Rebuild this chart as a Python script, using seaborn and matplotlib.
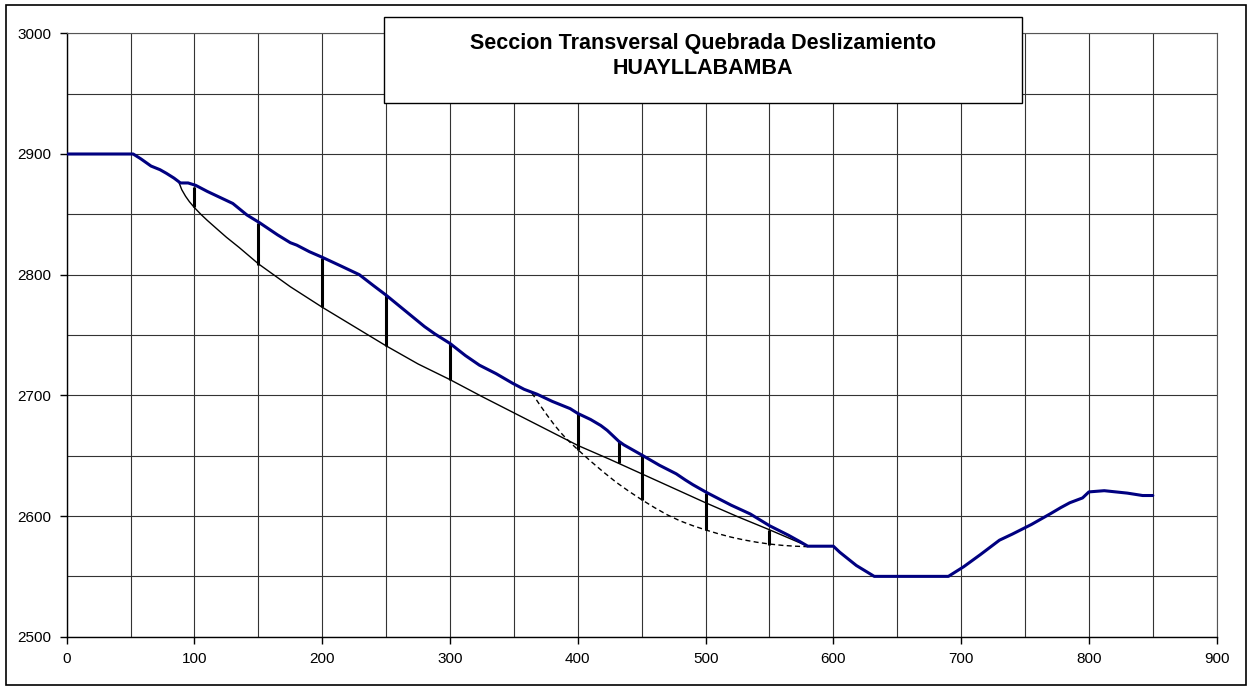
import numpy as np
import pandas as pd
import seaborn as sns
import matplotlib
matplotlib.use("Agg")
import matplotlib.pyplot as plt
from matplotlib.ticker import MultipleLocator
from matplotlib.patches import Rectangle

# ---- data ----
ground_x = [0, 52, 55, 58, 62, 66, 73, 78, 84, 89, 95, 101, 110, 122, 130, 141, 151, 165, 175, 180,
            190, 200, 215, 229, 240, 250, 265, 280, 288, 300, 312, 323, 336, 349, 358, 368, 380, 394,
            400, 410, 418, 423, 428, 432, 436, 450, 464, 477, 484, 490, 501, 520, 535, 550, 565, 574,
            580, 600, 605, 618, 632, 690, 702, 715, 730, 740, 755, 770, 778, 785, 795, 800, 812, 830,
            842, 850]
ground_y = [2900, 2900, 2898, 2896, 2893, 2890, 2887, 2884, 2880, 2876, 2876, 2874, 2869, 2863, 2859,
            2849.5, 2843, 2833, 2826.5, 2824.5, 2819, 2814.4, 2807, 2800, 2791, 2783, 2770, 2757, 2751,
            2743, 2733, 2725, 2718, 2710, 2705, 2701, 2695, 2689, 2685, 2680, 2675, 2671, 2666, 2662,
            2659, 2650.6, 2642, 2635, 2630, 2626, 2619.4, 2609, 2601.7, 2592, 2584, 2578.7, 2575, 2575,
            2570, 2559, 2550, 2550, 2558, 2568, 2580, 2585, 2593, 2602, 2607, 2611, 2615, 2620, 2621,
            2619, 2617, 2617]

circle1_x = [88, 90, 93, 96, 100, 105, 110, 118, 125, 135, 150, 175, 200, 225, 250, 275, 300, 325,
             350, 375, 400, 425, 450, 475, 500, 525, 550, 580]
circle1_y = [2876, 2870.5, 2865, 2860.5, 2855.5, 2850, 2845, 2837.5, 2831, 2822.5, 2809, 2790, 2773,
             2757, 2741, 2726, 2713, 2699, 2685.5, 2672, 2658.5, 2647, 2635, 2623, 2611, 2599.5,
             2588.6, 2575]

circle2_x = [364, 370, 376, 382, 388, 394, 400, 410, 420, 430, 440, 450, 460, 470, 480, 490, 500,
             510, 520, 530, 540, 550, 560, 570, 580]
circle2_y = [2702, 2692.5, 2683.5, 2675, 2667.5, 2661, 2655, 2645.5, 2636.5, 2628, 2620.5, 2613.5,
             2607, 2601, 2596, 2592, 2588.5, 2585.3, 2582.5, 2580.2, 2578.3, 2576.8, 2575.7, 2575,
             2574.6]

slice_x = [100, 150, 200, 250, 300, 400, 432, 450, 500, 550]
slice_top = [2873, 2843, 2814, 2783, 2743, 2685, 2662, 2650.6, 2619.4, 2588.6]
slice_bottom = [2856, 2808, 2773, 2741, 2713, 2655, 2644, 2613.5, 2588.4, 2576]

title_lines = ["Seccion Transversal Quebrada Deslizamiento", "HUAYLLABAMBA"]

# ---- style ----
sns.set_style("white")
plt.rcParams['font.family'] = ['Liberation Sans', 'DejaVu Sans']
plt.rcParams['text.color'] = 'black'

fig = plt.figure(figsize=(12.47, 6.87), dpi=100)
ax = fig.add_axes([0.0535, 0.0732, 0.9222, 0.8783])

ground = pd.DataFrame({"x": ground_x, "y": ground_y})
c1 = pd.DataFrame({"x": circle1_x, "y": circle1_y})
c2 = pd.DataFrame({"x": circle2_x, "y": circle2_y})

sns.lineplot(data=c1, x="x", y="y", ax=ax, color="black", lw=1.0, estimator=None, sort=False, zorder=3)
sns.lineplot(data=c2, x="x", y="y", ax=ax, color="black", lw=1.0, estimator=None, sort=False,
             linestyle=(0, (3.6, 2.4)), zorder=3)
ax.vlines(slice_x, slice_bottom, slice_top, colors="black", lw=2.2, zorder=4)
sns.lineplot(data=ground, x="x", y="y", ax=ax, color="#000080", lw=2.2, estimator=None, sort=False, zorder=5)

ax.set_xlim(0, 900)
ax.set_ylim(2500, 3000)
ax.xaxis.set_major_locator(MultipleLocator(100))
ax.xaxis.set_minor_locator(MultipleLocator(50))
ax.yaxis.set_major_locator(MultipleLocator(100))
ax.yaxis.set_minor_locator(MultipleLocator(50))
ax.grid(which="both", color="#333333", lw=0.8)
ax.set_axisbelow(True)
ax.tick_params(which="major", direction="out", length=5, width=1, color="black",
               labelsize=11, labelcolor="black", pad=6, bottom=True, left=True)
ax.tick_params(which="minor", length=0)
ax.set_xlabel("")
ax.set_ylabel("")
for side in ["left", "bottom"]:
    ax.spines[side].set_color("black")
    ax.spines[side].set_linewidth(1.0)
for side in ["top", "right"]:
    ax.spines[side].set_color("#555555")
    ax.spines[side].set_linewidth(0.8)

# title box
box = Rectangle((0.308, 0.850), 0.5116, 0.125, transform=fig.transFigure, facecolor="white",
                edgecolor="black", lw=1.0, zorder=10)
fig.patches.append(box)
fig.text(0.5638, 0.9374, title_lines[0], ha="center", va="center", fontsize=15.5, fontweight="bold",
         color="black", zorder=11)
fig.text(0.5638, 0.901, title_lines[1], ha="center", va="center", fontsize=15.5, fontweight="bold",
         color="black", zorder=11)

# outer frame
frame = Rectangle((0.005, 0.003), 0.994, 0.990, transform=fig.transFigure, fill=False,
                  edgecolor="black", lw=1.2)
fig.patches.append(frame)

fig.savefig("out.png", dpi=100)
